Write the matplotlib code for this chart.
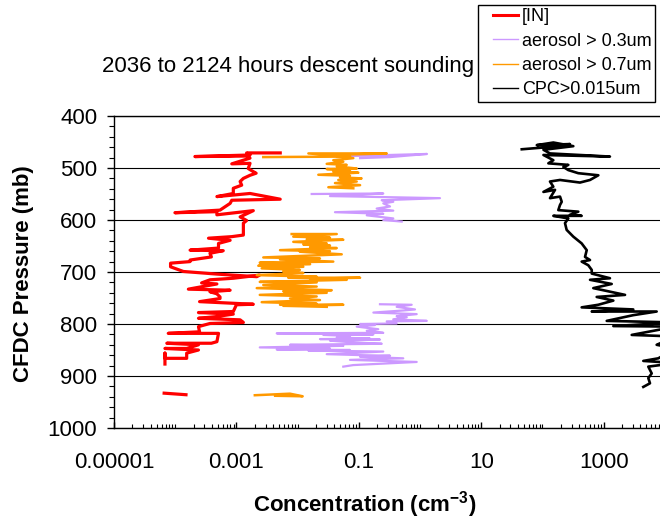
import numpy as np
import matplotlib

matplotlib.use("Agg")
import matplotlib.pyplot as plt
from matplotlib.legend_handler import HandlerLine2D
from matplotlib.lines import Line2D
from matplotlib.ticker import FixedLocator, LogLocator, NullFormatter, MultipleLocator

nan = np.nan

# [IN] ice nuclei, concentration (cm-3) and CFDC pressure (mb)
in_conc = [5.2e-3, 1.47e-3, 1.67e-3, 2.1e-4, 1.47e-3, 1.67e-3, 8.4e-4, 1.67e-3, 1.56e-3, 1.89e-3,
           2.1e-3, 1.67e-3, 1.3e-3, 1.15e-3, 1.22e-3, 8.9e-4, 8.9e-4, 4.8e-4, 1.67e-3, 5.2e-3,
           8.4e-4, 7.9e-4, 5.4e-4, 9.9e-5, 4.8e-4, 4.8e-4, 1.89e-3, 1.15e-3, 1.47e-3, 1.3e-3,
           1.3e-3, 8.4e-4, 3.5e-4, 7.9e-4, 5.1e-4, 5.1e-4, 1.75e-4, 6.1e-4, 3.7e-4, 3.9e-4,
           1.75e-4, 1.75e-4, 8.4e-5, 8.4e-5, 1.36e-4, 4.8e-4, 2.15e-3, 2.4e-3, 8.9e-4, 3.7e-4,
           2.7e-4, 4.8e-4, 1.64e-4, 7.9e-4, 3.7e-4, 4.8e-4, 5.4e-4, 5.4e-4, 2.5e-4, 1.89e-3,
           1.0e-3, 8.9e-4, 2.4e-4, 8.9e-4, 4.5e-4, 2.4e-4, 1.15e-3, 1.3e-3, 3.7e-4, 2.4e-4,
           2.5e-4, 7.7e-5, 5.1e-4, 4.8e-4, 3.9e-4, 7.3e-5, 2.4e-4, 1.54e-4, 6.8e-5, 2.4e-4,
           1.54e-4, 1.54e-4, 6.8e-5, 6.8e-5, 6.8e-5, nan, 6.6e-5, 1.5e-4]
in_pres = [471, 471, 475, 478, 477, 481, 492, 491, 501, 507,
           510, 514, 520, 526, 533, 539, 549, 555, 549, 560,
           562, 568, 581, 586, 584, 590, 582, 594, 601, 606,
           629, 632, 635, 639, 645, 654, 658, 659, 664, 671,
           677, 680, 683, 690, 699, 704, 709, 706, 712, 715,
           721, 723, 733, 735, 738, 742, 748, 751, 757, 762,
           763, 776, 778, 781, 786, 789, 792, 797, 799, 805,
           815, 818, 818, 834, 837, 837, 840, 847, 847, 850,
           856, 866, 866, 856, 877, nan, 933, 936]

# aerosol > 0.3um
a03_conc = [0.0718, 1.30, 0.324, 0.105, nan,
            0.0170, 0.251, 0.0338, 2.12, 0.237, 0.366, 0.251, 0.324, 0.196, 0.366,
            0.0408, 0.251, 0.135, 0.366, 0.251, 0.502, nan,
            0.222, 0.731, 0.416, 0.828, 0.533, 0.173, 0.883, 0.416, 0.607, 0.366,
            1.29, 0.286, 0.416, 0.105, 0.184, 0.0925, 0.208, 0.135, 0.251, 4.56e-3,
            0.173, 0.0263, 0.0718, 0.0436, 0.152, 0.0232, 0.222, 0.0338, 0.0718, 0.237,
            7.52e-3, 0.0558, 2.41e-3, 0.0338, 4.56e-3, 0.0718, 0.0150, 0.251, 0.0299, 0.119,
            0.324, 0.105, 0.533, 0.0718, 0.883, 0.0813, 0.0558]
a03_pres = [477, 473, 479, 481, nan,
            550, 549, 554, 558, 562, 565, 568, 574, 578, 582,
            585, 588, 591, 597, 600, 603, nan,
            762, 763, 767, 772, 774, 778, 781, 785, 787, 791,
            794, 795, 799, 800, 802, 805, 810, 813, 817, 818,
            820, 821, 823, 826, 828, 829, 830, 832, 835, 838,
            840, 842, 845, 847, 849, 850, 851, 853, 858, 860,
            861, 863, 866, 869, 873, 879, 882]

# aerosol > 0.7um
a07_conc = [2.75e-3, 0.0718, 0.0150, 0.286, 0.0338, 0.0813, 0.0383, 0.0558, 0.0299, 0.0634,
            0.0436, 0.0925, 0.0299, 0.0718, 0.0383, 0.0982, 0.0218, 0.0718, 0.0493, 0.111,
            0.0462, 0.0925, 0.0408, 0.105, 0.0318, 0.0813, nan,
            8.0e-3, 0.0436, 8.5e-3, 0.0338, 0.0141, 0.0558, 8.5e-3, 0.0299, 0.0124, 0.0338,
            0.0160, 0.0436, 5.16e-3, 0.0338, 0.0109, 0.0526, 2.75e-3, 0.0232, 5.16e-3, 0.0383,
            2.41e-3, 0.0160, 2.28e-3, 0.0124, 2.59e-3, 0.0109, 5.83e-3, 0.0124, 2.15e-3, 0.0205,
            7.05e-3, 0.105, 0.0160, 0.0634, 2.41e-3, 0.0205, 2.75e-3, 0.0205, 2.15e-3, 0.0361,
            5.83e-3, 0.0299, 2.41e-3, 0.0205, 7.52e-3, 0.0232, 2.59e-3, 0.0205, 5.16e-3, 0.0558,
            5.83e-3, 0.0299, nan,
            2.0e-3, 7.5e-3, 0.0121, 4.3e-3]
a07_pres = [479, 478, 472, 472, 475, 481, 485, 488, 492, 494,
            497, 501, 502, 505, 507, 509, 513, 515, 518, 520,
            523, 526, 529, 533, 537, 539, nan,
            627, 627, 632, 634, 637, 638, 642, 645, 647, 649,
            652, 654, 658, 660, 661, 666, 672, 674, 676, 680,
            682, 685, 688, 690, 693, 696, 699, 702, 706, 709,
            711, 711, 713, 715, 719, 720, 725, 728, 731, 735,
            737, 740, 744, 747, 751, 754, 758, 761, 763, 763,
            765, 767, nan,
            937, 934, 939, 938]

# CPC > 0.015um
cpc_conc = [46, 151, 282, 81, 151, 320, 104, 133, 1270, 104,
            151, 125, 265, 220, 265, 386, 820, 600, 411, 194,
            133, 151, 104, 161, 133, 194, 207, 194, 182, 386,
            282, 438, 151, 265, 234, 249, 320, 438, 530, 497,
            600, 438, 562, 640, 640, 1270, 600, 1356, 679, 2240,
            771, 1442, 819, 438, 3055, 640, 7365, 3055, 1125, 15000,
            1442, 15000, 2880, 15000, 7365, 15000, 7830, 4456, 15000, 5375,
            6110, 5375, 5730, 4456]
cpc_pres = [464, 459, 454, 456, 451, 458, 465, 472, 478, 475,
            485, 491, 494, 498, 504, 510, 514, 523, 528, 523,
            526, 536, 546, 542, 558, 555, 565, 571, 581, 584,
            590, 592, 592, 597, 606, 619, 632, 645, 658, 671,
            677, 680, 687, 696, 703, 712, 715, 723, 731, 744,
            748, 755, 763, 768, 772, 776, 776, 783, 794, 797,
            804, 805, 821, 824, 840, 847, 866, 871, 875, 882,
            895, 904, 914, 921]

x_ticks = [1e-5, 1e-3, 1e-1, 1e1, 1e3]
x_tick_labels = ["0.00001", "0.001", "0.1", "10", "1000"]
y_ticks = [400, 500, 600, 700, 800, 900, 1000]

COLORS = {
    "in": "#ff0000",
    "a03": "#cc99ff",
    "a07": "#ff9900",
    "cpc": "#000000",
}

W, H = 660, 519


def main() -> None:
    plt.rcParams.update(
        {
            "font.family": ["Liberation Sans", "DejaVu Sans"],
            "mathtext.fontset": "custom",
            "mathtext.rm": "Liberation Sans",
            "mathtext.bf": "Liberation Sans:bold",
            "figure.facecolor": "white",
            "axes.facecolor": "white",
        }
    )

    fig = plt.figure(figsize=(W / 100, H / 100), dpi=100)
    ax = fig.add_axes([114 / W, 1 - 428 / H, 612 / W, 312 / H])

    ax.plot(in_conc, in_pres, color=COLORS["in"], linewidth=2.3)
    ax.plot(a03_conc, a03_pres, color=COLORS["a03"], linewidth=1.6)
    ax.plot(a07_conc, a07_pres, color=COLORS["a07"], linewidth=1.8)
    ax.plot(cpc_conc, cpc_pres, color=COLORS["cpc"], linewidth=1.9)

    ax.set_xscale("log")
    ax.set_xlim(1e-5, 1e5)
    ax.set_ylim(1000, 400)

    ax.xaxis.set_major_locator(FixedLocator(x_ticks))
    ax.set_xticklabels(x_tick_labels)
    ax.xaxis.set_minor_locator(LogLocator(base=10, subs=np.arange(1, 10), numticks=100))
    ax.xaxis.set_minor_formatter(NullFormatter())
    ax.tick_params(axis="x", which="major", direction="in", length=4, width=1, labelsize=16, pad=17)
    ax.tick_params(axis="x", which="minor", direction="in", length=2.8, width=0.8)

    ax.set_yticks(y_ticks)
    ax.yaxis.set_minor_locator(MultipleLocator(20))
    ax.tick_params(axis="y", which="major", direction="out", length=5, width=1, labelsize=16, pad=7)
    ax.tick_params(axis="y", which="minor", direction="out", length=3.5, width=0.8)

    ax.grid(axis="y", which="major", color="black", linewidth=0.8)
    for side in ("left", "bottom", "top", "right"):
        ax.spines[side].set_linewidth(1.0)

    ax.set_ylabel("CFDC Pressure (mb)", fontsize=16, fontweight="bold")
    ax.yaxis.set_label_coords(-0.131, 0.495)
    ax.set_xlabel(r"Concentration (cm$^{\mathbf{-3}}$)", fontsize=16, fontweight="bold")
    ax.xaxis.set_label_coords((365 - 114) / 612, -0.195)

    fig.text(474 / W, 1 - 72 / H, "2036 to 2124 hours descent sounding", fontsize=16,
             ha="right", va="baseline")

    handles = [
        Line2D([], [], color=COLORS["in"], linewidth=2.2),
        Line2D([], [], color=COLORS["a03"], linewidth=1.0),
        Line2D([], [], color=COLORS["a07"], linewidth=1.0),
        Line2D([], [], color=COLORS["cpc"], linewidth=1.0),
    ]
    labels = ["[IN]", "aerosol > 0.3um", "aerosol > 0.7um", "CPC>0.015um"]
    leg = fig.legend(handles, labels, loc="upper left", bbox_to_anchor=(478 / W, 1 - 5 / H),
                     frameon=True, fancybox=False, edgecolor="black", framealpha=1,
                     fontsize=13, handlelength=2.03, handletextpad=0.22, labelspacing=0.41,
                     borderpad=0.18, borderaxespad=0,
                     handler_map={Line2D: HandlerLine2D(xpad=0.66)})
    leg.get_frame().set_linewidth(1.0)

    fig.savefig("out.png", dpi=100)
    plt.close(fig)


if __name__ == "__main__":
    main()
